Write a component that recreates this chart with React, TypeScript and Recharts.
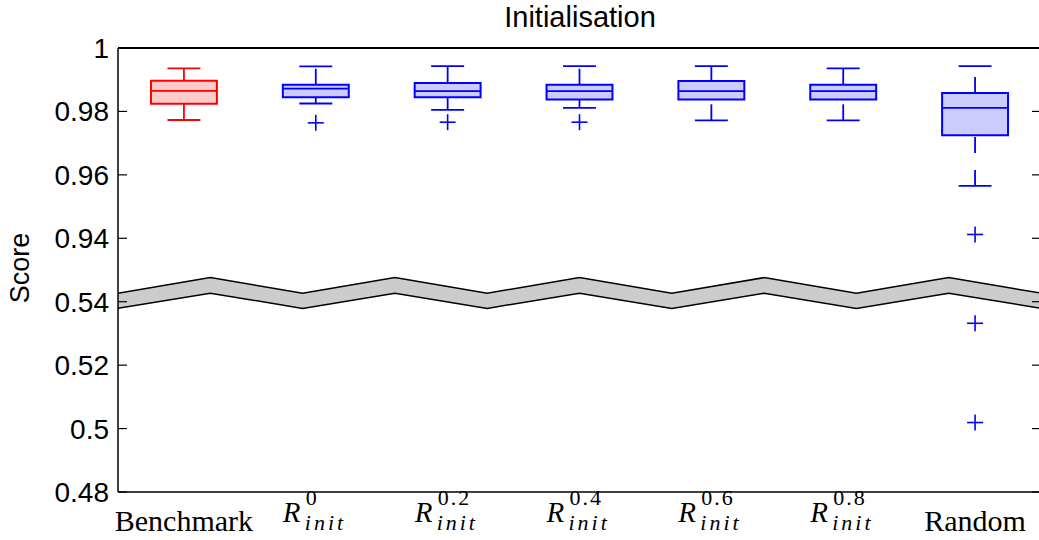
import { ComposedChart, XAxis, YAxis, Area, Scatter, ReferenceArea, ReferenceLine } from 'recharts';

// box plot summary per category (real score values)
const positions = [1, 2, 3, 4, 5, 6, 7];
const categories = ['Benchmark', 'R', 'R', 'R', 'R', 'R', 'Random'];
const superscripts = ['', '0', '0.2', '0.4', '0.6', '0.8', ''];
const upperWhisker = [0.9936, 0.9942, 0.9943, 0.9943, 0.9943, 0.9936, 0.9943];
const q3 = [0.9897, 0.9884, 0.989, 0.9884, 0.9896, 0.9884, 0.9858];
const medians = [0.9865, 0.9872, 0.9864, 0.9864, 0.9864, 0.9864, 0.9811];
const q1 = [0.9824, 0.9845, 0.9845, 0.9838, 0.9838, 0.9838, 0.9725];
const lowerWhisker = [0.9773, 0.9825, 0.9805, 0.9811, 0.9772, 0.9772, 0.9565];

const outlierPos = [2, 3, 4, 7, 7, 7];
const outlierValues = [0.9764, 0.9766, 0.9766, 0.9412, 0.5332, 0.5019];

// y ticks on the broken axis (real values)
const yTickValues = [0.48, 0.5, 0.52, 0.54, 0.94, 0.96, 0.98, 1];

// axis break band (zig-zag), in axis units
const breakX = [0.5, 1.2, 1.9, 2.6, 3.3, 4.0, 4.7, 5.4, 6.1, 6.8, 7.5];
const breakTop = [0.5427, 0.5476, 0.5427, 0.5476, 0.5427, 0.5476, 0.5427, 0.5476, 0.5427, 0.5476, 0.5427];
const breakBottom = [0.5379, 0.5427, 0.5379, 0.5427, 0.5379, 0.5427, 0.5379, 0.5427, 0.5379, 0.5427, 0.5379];

// upper segment 0.94..1 sits right above 0.48..0.54
const SHIFT = 0.38;
const toAxis = (v: number) => (v > 0.7 ? v - SHIFT : v);
const fromAxis = (v: number) => (v > 0.55 ? v + SHIFT : v);
const fmt = (v: number) => String(Number(fromAxis(v).toFixed(2)));

const yTicks = yTickValues.map(toAxis);
const breakData = breakX.map((x, i) => ({ x, band: [breakBottom[i], breakTop[i]] }));
const outliers = outlierPos.map((x, i) => ({ x, y: toAxis(outlierValues[i]) }));

const HALF_BOX = 0.25;
const HALF_CAP = 0.125;
const SANS = '"Liberation Sans", Arial, sans-serif';
const SERIF = '"Liberation Serif", "Times New Roman", serif';

const CategoryTick = (props: any) => {
  const { x, y, payload } = props;
  const i = positions.indexOf(payload.value);
  if (i < 0) return null;
  if (!superscripts[i]) {
    return (
      <text x={x} y={y + 39} textAnchor="middle" fontFamily={SERIF} fontSize={30} fill="#000">
        {categories[i]}
      </text>
    );
  }
  return (
    <g>
      <text x={x - 33} y={y + 30} fontFamily={SERIF} fontStyle="italic" fontSize={29} fill="#000">
        {categories[i]}
      </text>
      <text x={x - 10} y={y + 13} fontFamily={SERIF} fontSize={22} letterSpacing={2} fill="#000">
        {superscripts[i]}
      </text>
      <text x={x - 11} y={y + 38} fontFamily={SERIF} fontStyle="italic" fontSize={22} letterSpacing={3} fill="#000">
        init
      </text>
    </g>
  );
};

const Plus = (props: any) => {
  const { cx, cy } = props;
  return (
    <g stroke="#0000ff" strokeWidth={1.6}>
      <line x1={cx - 8} y1={cy} x2={cx + 8} y2={cy} />
      <line x1={cx} y1={cy - 8} x2={cx} y2={cy + 8} />
    </g>
  );
};

export default function App() {
  return (
    <div style={{ position: 'absolute', left: 0, top: 0, width: 1039, height: 540, overflow: 'hidden', background: '#fff' }}>
      <ComposedChart width={1050} height={540} data={breakData} margin={{ top: 48, right: 0, bottom: 0, left: 0 }}>
        <XAxis
          dataKey="x"
          type="number"
          domain={[0.5, 7.5]}
          ticks={positions}
          allowDataOverflow
          height={48}
          tickLine={false}
          tickSize={0}
          tickMargin={0}
          axisLine={{ stroke: '#000', strokeWidth: 1.5 }}
          tick={<CategoryTick />}
        />
        <YAxis
          dataKey="y"
          type="number"
          domain={[0.48, 0.62]}
          ticks={yTicks}
          allowDataOverflow
          width={118}
          tickSize={-9}
          tickMargin={18}
          tickFormatter={fmt}
          axisLine={{ stroke: '#000', strokeWidth: 1.5 }}
          tickLine={{ stroke: '#000', strokeWidth: 1.2 }}
          tick={{ fill: '#000', fontSize: 28, fontFamily: SANS }}
        />
        <YAxis
          yAxisId="right"
          orientation="right"
          type="number"
          domain={[0.48, 0.62]}
          ticks={yTicks}
          allowDataOverflow
          width={9}
          tickSize={-9}
          tickMargin={0}
          tickFormatter={() => ''}
          axisLine={{ stroke: '#000', strokeWidth: 1.5 }}
          tickLine={{ stroke: '#000', strokeWidth: 1.2 }}
        />
        <ReferenceLine y={0.62} stroke="#000" strokeWidth={2} />

        <Area
          type="linear"
          dataKey="band"
          stroke="#000"
          strokeWidth={1.5}
          fill="#cccccc"
          fillOpacity={1}
          dot={false}
          activeDot={false}
          isAnimationActive={false}
        />

        {positions.map((p, i) => {
          const color = i === 0 ? '#ff0000' : '#0000ff';
          const fill = i === 0 ? '#ffcccc' : '#ccccff';
          return [
            <ReferenceLine
              key={`uw${i}`}
              segment={[{ x: p, y: toAxis(q3[i]) }, { x: p, y: toAxis(upperWhisker[i]) }]}
              stroke={color}
              strokeWidth={1.8}
              strokeDasharray="16 17"
            />,
            <ReferenceLine
              key={`lw${i}`}
              segment={[{ x: p, y: toAxis(lowerWhisker[i]) }, { x: p, y: toAxis(q1[i]) }]}
              stroke={color}
              strokeWidth={1.8}
              strokeDasharray="16 17"
            />,
            <ReferenceLine
              key={`uc${i}`}
              segment={[{ x: p - HALF_CAP, y: toAxis(upperWhisker[i]) }, { x: p + HALF_CAP, y: toAxis(upperWhisker[i]) }]}
              stroke={color}
              strokeWidth={1.8}
            />,
            <ReferenceLine
              key={`lc${i}`}
              segment={[{ x: p - HALF_CAP, y: toAxis(lowerWhisker[i]) }, { x: p + HALF_CAP, y: toAxis(lowerWhisker[i]) }]}
              stroke={color}
              strokeWidth={1.8}
            />,
            <ReferenceArea
              key={`box${i}`}
              x1={p - HALF_BOX}
              x2={p + HALF_BOX}
              y1={toAxis(q1[i])}
              y2={toAxis(q3[i])}
              fill={fill}
              fillOpacity={1}
              stroke={color}
              strokeWidth={2}
            />,
            <ReferenceLine
              key={`med${i}`}
              segment={[{ x: p - HALF_BOX, y: toAxis(medians[i]) }, { x: p + HALF_BOX, y: toAxis(medians[i]) }]}
              stroke={color}
              strokeWidth={1.8}
            />,
          ];
        })}

        <Scatter data={outliers} dataKey="y" shape={<Plus />} isAnimationActive={false} />
      </ComposedChart>
      <svg width={1039} height={540} style={{ position: 'absolute', left: 0, top: 0, pointerEvents: 'none' }}>
        <text x={580} y={27} textAnchor="middle" fontFamily={SANS} fontSize={29} fill="#000">
          Initialisation
        </text>
        <text x={29} y={268} transform="rotate(-90 29 268)" textAnchor="middle" fontFamily={SANS} fontSize={27} fill="#000">
          Score
        </text>
      </svg>
    </div>
  );
}
